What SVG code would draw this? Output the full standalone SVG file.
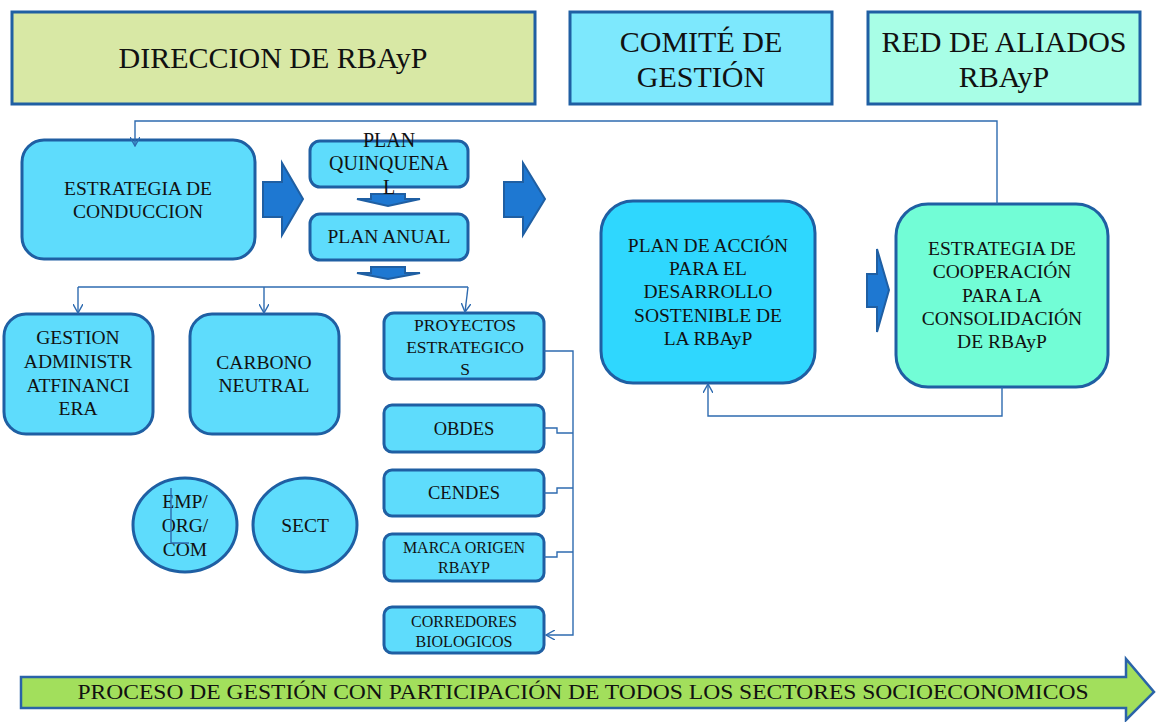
<svg xmlns="http://www.w3.org/2000/svg" width="1156" height="722" viewBox="0 0 1156 722">
<defs>
<style>
.hdr{stroke:#1f5fa3;stroke-width:3}
.nd{fill:#5edcfc;stroke:#1f5fa3;stroke-width:3}
.t{font-family:"Liberation Serif","Times New Roman",serif;fill:#111;text-anchor:middle}
.h{font-size:30px}
.m{font-size:19.5px}
.blk{fill:#1e78d2;stroke:#1f5fa3;stroke-width:2}
.cn{fill:none;stroke:#2e6bb0;stroke-width:1.4}
</style>
<marker id="ar" viewBox="0 0 10 10" refX="9" refY="5" markerWidth="10" markerHeight="10" markerUnits="userSpaceOnUse" orient="auto">
<path d="M0,0 L9,5 L0,10" fill="none" stroke="#2e6bb0" stroke-width="1.4"/>
</marker>
</defs>
<rect width="1156" height="722" fill="#fff"/>

<g id="direccion">
<rect class="hdr" x="12" y="12" width="523" height="92" fill="#d8e8a5"/>
<text class="t h" x="273" y="68">DIRECCION DE RBAyP</text>
</g>
<g id="comite">
<rect class="hdr" x="570" y="12" width="262" height="92" fill="#7de8fd"/>
<text class="t h" x="701" y="52">COMITÉ DE</text>
<text class="t h" x="701" y="87">GESTIÓN</text>
</g>
<g id="red">
<rect class="hdr" x="868" y="12" width="272" height="92" fill="#a8fee6"/>
<text class="t h" x="1004" y="52">RED DE ALIADOS</text>
<text class="t h" x="1004" y="87">RBAyP</text>
</g>

<g id="block-arrows">
<path class="blk" d="M263,182 H282 V163 L303,199 L282,235 V217 H263 Z"/>
<path class="blk" d="M504,182 H523 V163 L545,199 L523,235 V217 H504 Z"/>
<path class="blk" d="M867,274 H877 V249 L889,290 L877,332 V307 H867 Z"/>
<path class="blk" stroke-width="1.2" d="M371,194 H405 V199 H420 L388,206 L357,199 H371 Z"/>
<path class="blk" stroke-width="1.2" d="M371,267 H405 V273 H420 L388,279 L357,273 H371 Z"/>
</g>

<g id="estrategia-conduccion">
<rect class="nd" x="22" y="140" width="233" height="119" rx="22"/>
<text class="t m" x="138" y="195">ESTRATEGIA DE</text>
<text class="t m" x="138" y="218">CONDUCCION</text>
</g>
<g id="plan-quinquenal">
<rect class="nd" x="310" y="141" width="158" height="46" rx="10"/>
<text class="t" x="389" y="147" font-size="20">PLAN</text>
<text class="t" x="389" y="170" font-size="20">QUINQUENA</text>
<text class="t" x="389" y="194" font-size="20">L</text>
</g>
<g id="plan-anual">
<rect class="nd" x="310" y="214" width="158" height="46" rx="10"/>
<text class="t m" x="389" y="243">PLAN ANUAL</text>
</g>
<g id="gestion">
<rect class="nd" x="4" y="314" width="149" height="120" rx="22"/>
<text class="t m" x="78" y="344">GESTION</text>
<text class="t m" x="78" y="368">ADMINISTR</text>
<text class="t m" x="78" y="392">ATFINANCI</text>
<text class="t m" x="78" y="415">ERA</text>
</g>
<g id="carbono">
<rect class="nd" x="190" y="314" width="149" height="120" rx="22"/>
<text class="t m" x="264" y="369">CARBONO</text>
<text class="t m" x="264" y="392">NEUTRAL</text>
</g>
<g id="proyectos">
<rect class="nd" x="384" y="313" width="160" height="66" rx="10"/>
<text class="t" x="465" y="331" font-size="17.5">PROYECTOS</text>
<text class="t" x="465" y="353" font-size="17.5">ESTRATEGICO</text>
<text class="t" x="465" y="375" font-size="17.5">S</text>
</g>
<g id="obdes">
<rect class="nd" x="384" y="405" width="160" height="47" rx="8"/>
<text class="t" x="464" y="435" font-size="18.5">OBDES</text>
</g>
<g id="cendes">
<rect class="nd" x="384" y="470" width="160" height="46" rx="8"/>
<text class="t" x="464" y="499" font-size="18.5">CENDES</text>
</g>
<g id="marca">
<rect class="nd" x="384" y="534" width="160" height="47" rx="8"/>
<text class="t" x="464" y="553" font-size="16">MARCA ORIGEN</text>
<text class="t" x="464" y="573" font-size="16">RBAYP</text>
</g>
<g id="corredores">
<rect class="nd" x="384" y="607" width="160" height="46" rx="8"/>
<text class="t" x="464" y="627" font-size="16">CORREDORES</text>
<text class="t" x="464" y="647" font-size="16">BIOLOGICOS</text>
</g>
<g id="emp">
<ellipse class="nd" cx="185" cy="525" rx="52" ry="47"/>
<text class="t m" x="185" y="508">EMP/</text>
<text class="t m" x="185" y="532">ORG/</text>
<text class="t m" x="185" y="556">COM</text>
</g>
<g id="sect">
<ellipse class="nd" cx="305" cy="525" rx="52" ry="47"/>
<text class="t m" x="305" y="532">SECT</text>
</g>
<g id="plan-accion">
<rect x="601" y="201" width="214" height="182" rx="32" fill="#2fd7fe" stroke="#1f5fa3" stroke-width="3"/>
<text class="t m" x="708" y="252">PLAN DE ACCIÓN</text>
<text class="t m" x="708" y="275">PARA EL</text>
<text class="t m" x="708" y="298">DESARROLLO</text>
<text class="t m" x="708" y="322">SOSTENIBLE DE</text>
<text class="t m" x="708" y="345">LA RBAyP</text>
</g>
<g id="estrategia-cooperacion">
<rect x="896" y="204" width="212" height="183" rx="32" fill="#72fdd6" stroke="#1f5fa3" stroke-width="3"/>
<text class="t m" x="1002" y="255">ESTRATEGIA DE</text>
<text class="t m" x="1002" y="278">COOPERACIÓN</text>
<text class="t m" x="1002" y="302">PARA LA</text>
<text class="t m" x="1002" y="325">CONSOLIDACIÓN</text>
<text class="t m" x="1002" y="348">DE RBAyP</text>
</g>

<g id="connectors">
<path class="cn" d="M997,204 V121 H135 V146" marker-end="url(#ar)"/>
<path class="cn" d="M78,287 H468"/>
<path class="cn" d="M78,287 V313" marker-end="url(#ar)"/>
<path class="cn" d="M264,287 V313" marker-end="url(#ar)"/>
<path class="cn" d="M468,287 L465,312" marker-end="url(#ar)"/>
<path class="cn" d="M544,351 H573 V635 H546" marker-end="url(#ar)"/>
<path class="cn" d="M544,428 H557 V433 H573"/>
<path class="cn" d="M544,493 H557 V488 H573"/>
<path class="cn" d="M544,557 H557 V552 H573"/>
<path class="cn" d="M1002,387 V416 H708 V384" marker-end="url(#ar)"/>
<path class="cn" d="M171,488 V543 H189"/>
</g>

<g id="proceso">
<path d="M21,677 H1126 V659 L1154,692 L1126,720 V708 H21 Z" fill="#a2df5c" stroke="#2a63a8" stroke-width="2.5"/>
<text class="t" x="583" y="699" font-size="20" textLength="1011" lengthAdjust="spacingAndGlyphs">PROCESO DE GESTIÓN CON PARTICIPACIÓN DE TODOS LOS SECTORES SOCIOECONOMICOS</text>
</g>
</svg>
